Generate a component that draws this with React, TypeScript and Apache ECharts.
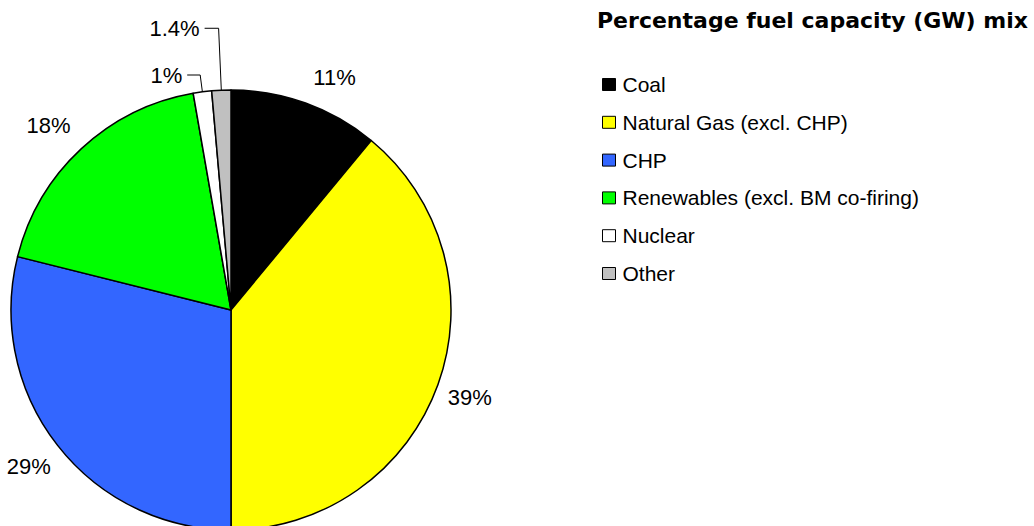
import React, { useEffect, useRef } from "react";
import * as echarts from "echarts";

const categories = [
  "Coal",
  "Natural Gas (excl. CHP)",
  "CHP",
  "Renewables (excl. BM co-firing)",
  "Nuclear",
  "Other",
];
const shares = [11.0, 39.0, 28.9, 18.35, 1.35, 1.4];
const labelTexts = ["11%", "39%", "29%", "18%", "1%", "1.4%"];
const colors = ["#000000", "#FFFF00", "#3366FF", "#00FF00", "#FFFFFF", "#C0C0C0"];
const titleText = "Percentage fuel capacity (GW) mix";

// label line lengths (small slices show leader lines)
const lineLen = [20, 20, 20, 20, 17, 62];
const lineLen2 = [0, 0, 0, 0, 13, 14];
const showLine = [false, false, false, false, true, true];
const labelShift: Array<[number, number]> = [
  [-4, -7],
  [-14, 6],
  [14, 9],
  [8, -9],
  [0, 0],
  [0, 0],
];

const FONT = "'Liberation Sans', Arial, sans-serif";

export default function App() {
  const ref = useRef<HTMLDivElement>(null);
  useEffect(() => {
    if (!ref.current) return;
    const chart = echarts.init(ref.current, undefined, { renderer: "svg" });
    const data = categories.map((name, i) => ({
      name,
      value: shares[i],
      itemStyle: { color: colors[i] },
      label: { formatter: labelTexts[i] },
      labelLine: { show: showLine[i], length: lineLen[i], length2: lineLen2[i] },
    }));
    chart.setOption({
      animation: false,
      backgroundColor: "#ffffff",
      title: {
        text: titleText,
        left: 597,
        top: 9,
        padding: 0,
        textStyle: { fontFamily: "'DejaVu Sans', sans-serif", fontSize: 22, fontWeight: "bold", color: "#000" },
      },
      legend: {
        orient: "vertical",
        left: 602,
        top: 74,
        padding: 0,
        itemWidth: 13,
        itemHeight: 12,
        itemGap: 16.8,
        icon: "rect",
        itemStyle: { borderColor: "#000", borderWidth: 1 },
        textStyle: { fontFamily: FONT, fontSize: 21, color: "#000", padding: [0, 0, 0, 2] },
        data: categories,
      },
      series: [
        {
          type: "pie",
          center: [231, 310],
          radius: 220,
          startAngle: 90,
          clockwise: true,
          avoidLabelOverlap: false,
          itemStyle: { borderColor: "#000", borderWidth: 1.5 },
          label: {
            show: true,
            position: "outside",
            fontFamily: FONT,
            fontSize: 22,
            color: "#000",
          },
          labelLine: { lineStyle: { color: "#000", width: 1 } },
          labelLayout: (params: any) => {
            const s = labelShift[params.dataIndex] || [0, 0];
            return { dx: s[0], dy: s[1] };
          },
          emphasis: { disabled: true },
          data,
        },
      ],
    });
    return () => chart.dispose();
  }, []);
  return (
    <div
      ref={ref}
      style={{ position: "fixed", left: 0, top: 0, width: 1034, height: 526 }}
    />
  );
}
